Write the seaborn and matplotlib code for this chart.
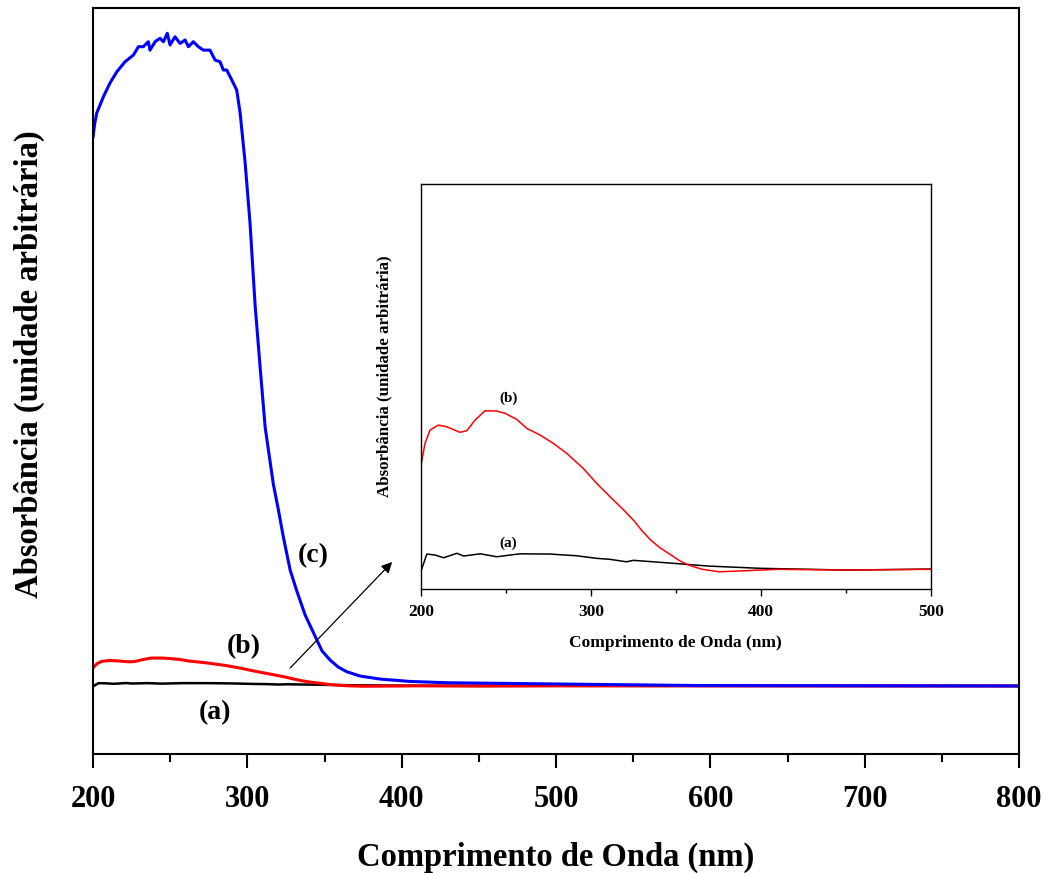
import numpy as np
import pandas as pd
import matplotlib
matplotlib.use("Agg")
import matplotlib.pyplot as plt
from matplotlib.ticker import MultipleLocator
import seaborn as sns

# ---------------- data ----------------
# (c) blue curve
wl_c = [200.0, 201.0, 202.4, 206.7, 211.0, 215.4, 220.7, 226.1, 229.4, 232.6, 235.8,
        236.9, 240.2, 243.4, 245.6, 248.1, 249.9, 253.1, 256.4, 259.6, 261.8, 265.0,
        268.2, 271.5, 275.8, 279.1, 282.3, 284.4, 286.6, 289.9, 293.1, 295.3, 298.5,
        301.7, 305.0, 308.2, 311.5, 316.8, 320.1, 323.3, 327.7, 332.0, 337.4, 345.0,
        348.4, 353.6, 358.8, 364.4, 373.0, 386.0, 405.4, 429.2, 515.6, 593.0, 800.0]
abs_c = [2.54, 2.60, 2.653, 2.728, 2.792, 2.844, 2.890, 2.921, 2.960, 2.960, 2.983,
         2.944, 2.983, 2.999, 2.983, 3.022, 2.968, 3.006, 2.975, 2.991, 2.960, 2.983,
         2.960, 2.944, 2.944, 2.898, 2.890, 2.852, 2.852, 2.806, 2.759, 2.653, 2.426,
         2.144, 1.764, 1.481, 1.199, 0.935, 0.815, 0.690, 0.537, 0.440, 0.329, 0.213,
         0.162, 0.120, 0.088, 0.066, 0.046, 0.032, 0.021, 0.015, 0.008, 0.002, 0.0]

# (b) red curve
wl_b = [200.0, 202.5, 205.5, 210.4, 215.3, 223.1, 227.1, 232.0, 237.8, 244.7, 249.6,
        256.5, 262.4, 270.2, 278.0, 285.9, 295.6, 303.5, 311.4, 318.5, 325.1, 330.0,
        335.2, 341.0, 347.3, 352.0, 357.5, 365.6, 375.7, 389.9, 410.1, 450.6, 499.1,
        600.0, 800.0]
abs_b = [0.0839, 0.1029, 0.1137, 0.1178, 0.1164, 0.1119, 0.1132, 0.1219, 0.1294,
         0.1292, 0.1273, 0.1224, 0.1151, 0.1097, 0.1029, 0.0948, 0.0826, 0.0704,
         0.0595, 0.0500, 0.0406, 0.0322, 0.0244, 0.0178, 0.0122, 0.0078, 0.0041,
         0.0006, -0.0014, -0.0006, 0.0006, 0.0, 0.0006, 0.0003, 0.0]

# (a) black curve
wl_a = [200.0, 203.6, 208.5, 213.4, 221.3, 225.2, 235.0, 244.7, 258.4, 276.0, 291.7,
        303.5, 311.4, 321.0, 325.1, 349.4, 369.6, 400.0, 450.6, 499.1, 800.0]
abs_a = [-0.0014, 0.0130, 0.0122, 0.0100, 0.0136, 0.0114, 0.0132, 0.0108, 0.0132,
         0.0130, 0.0116, 0.0095, 0.0087, 0.0067, 0.0079, 0.0054, 0.0032, 0.0014,
         0.0, 0.0008, 0.0]

main_ticks = [200, 300, 400, 500, 600, 700, 800]
inset_ticks = [200, 300, 400, 500]
xlabel = "Comprimento de Onda (nm)"
ylabel = "Absorbância (unidade arbitrária)"

# ---------------- style ----------------
sns.set_style("ticks")
plt.rcParams["font.family"] = ["Liberation Serif", "DejaVu Serif"]
plt.rcParams["font.weight"] = "bold"
plt.rcParams["axes.labelweight"] = "bold"
plt.rcParams["text.color"] = "black"
plt.rcParams["axes.labelcolor"] = "black"
plt.rcParams["xtick.color"] = "black"
plt.rcParams["ytick.color"] = "black"
plt.rcParams["axes.edgecolor"] = "black"

fig = plt.figure(figsize=(10.49, 8.73), dpi=100)
ax = fig.add_axes([0.0887, 0.1363, 0.8828, 0.8545])

sns.lineplot(x=wl_a, y=abs_a, ax=ax, color="black", linewidth=1.8, sort=False, estimator=None)
sns.lineplot(x=wl_b, y=abs_b, ax=ax, color="#ff0000", linewidth=2.2, sort=False, estimator=None)
sns.lineplot(x=wl_c, y=abs_c, ax=ax, color="#0000ff", linewidth=2.2, sort=False, estimator=None)

ax.set_xlim(200, 800)
ax.set_ylim(-0.315, 3.139)
ax.set_xticks(main_ticks)
ax.xaxis.set_minor_locator(MultipleLocator(50))
ax.set_yticks([])
ax.tick_params(axis="x", which="major", direction="out", length=10, width=1.5,
               labelsize=22, pad=12.5, colors="black")
ax.tick_params(axis="x", which="minor", direction="out", length=5.5, width=1.5, colors="black")
for lab in ax.get_xticklabels():
    lab.set_fontweight("bold")
for s in ax.spines.values():
    s.set_linewidth(1.5)
    s.set_color("black")
ax.set_xlabel(xlabel, fontsize=23.5, fontweight="bold", color="black")
ax.set_ylabel(ylabel, fontsize=23.5, fontweight="bold", color="black")
ax.xaxis.set_label_coords(0.5, -0.117)
ax.yaxis.set_label_coords(-0.052, 0.522)

ax.text(342.8, 0.605, "(c)", fontsize=20, fontweight="bold", ha="center", va="center", color="black")
ax.text(297.4, 0.18, "(b)", fontsize=20, fontweight="bold", ha="center", va="center", color="black")
ax.text(279.0, -0.121, "(a)", fontsize=20, fontweight="bold", ha="center", va="center", color="black")

ax.annotate("", xy=(393.8, 0.574), xytext=(327.7, 0.083),
            arrowprops=dict(arrowstyle="-|>", color="black", lw=0.9, mutation_scale=16,
                            shrinkA=0, shrinkB=0))

# ---------------- inset ----------------
ins = fig.add_axes([0.4011, 0.3253, 0.4862, 0.4639])
sns.lineplot(x=wl_a, y=abs_a, ax=ins, color="black", linewidth=1.1, sort=False, estimator=None)
sns.lineplot(x=wl_b, y=abs_b, ax=ins, color="#ff0000", linewidth=1.1, sort=False, estimator=None)
ins.set_xlim(200, 500)
ins.set_ylim(-0.0154, 0.3136)
ins.set_xticks(inset_ticks)
ins.xaxis.set_minor_locator(MultipleLocator(50))
ins.set_yticks([])
ins.tick_params(axis="x", which="major", direction="out", length=5, width=1.0,
                labelsize=12.5, pad=6, colors="black")
ins.tick_params(axis="x", which="minor", direction="out", length=3, width=1.0, colors="black")
for lab in ins.get_xticklabels():
    lab.set_fontweight("bold")
for s in ins.spines.values():
    s.set_linewidth(1.0)
    s.set_color("black")
ins.set_xlabel(xlabel, fontsize=12.5, fontweight="bold", color="black")
ins.set_ylabel(ylabel, fontsize=12.2, fontweight="bold", color="black")
ins.xaxis.set_label_coords(0.5, -0.113)
ins.yaxis.set_label_coords(-0.056, 0.526)
ins.text(251.4, 0.1397, "(b)", fontsize=11, fontweight="bold", ha="center", va="center", color="black")
ins.text(251.4, 0.0219, "(a)", fontsize=11, fontweight="bold", ha="center", va="center", color="black")

fig.savefig("out.png", dpi=100)
